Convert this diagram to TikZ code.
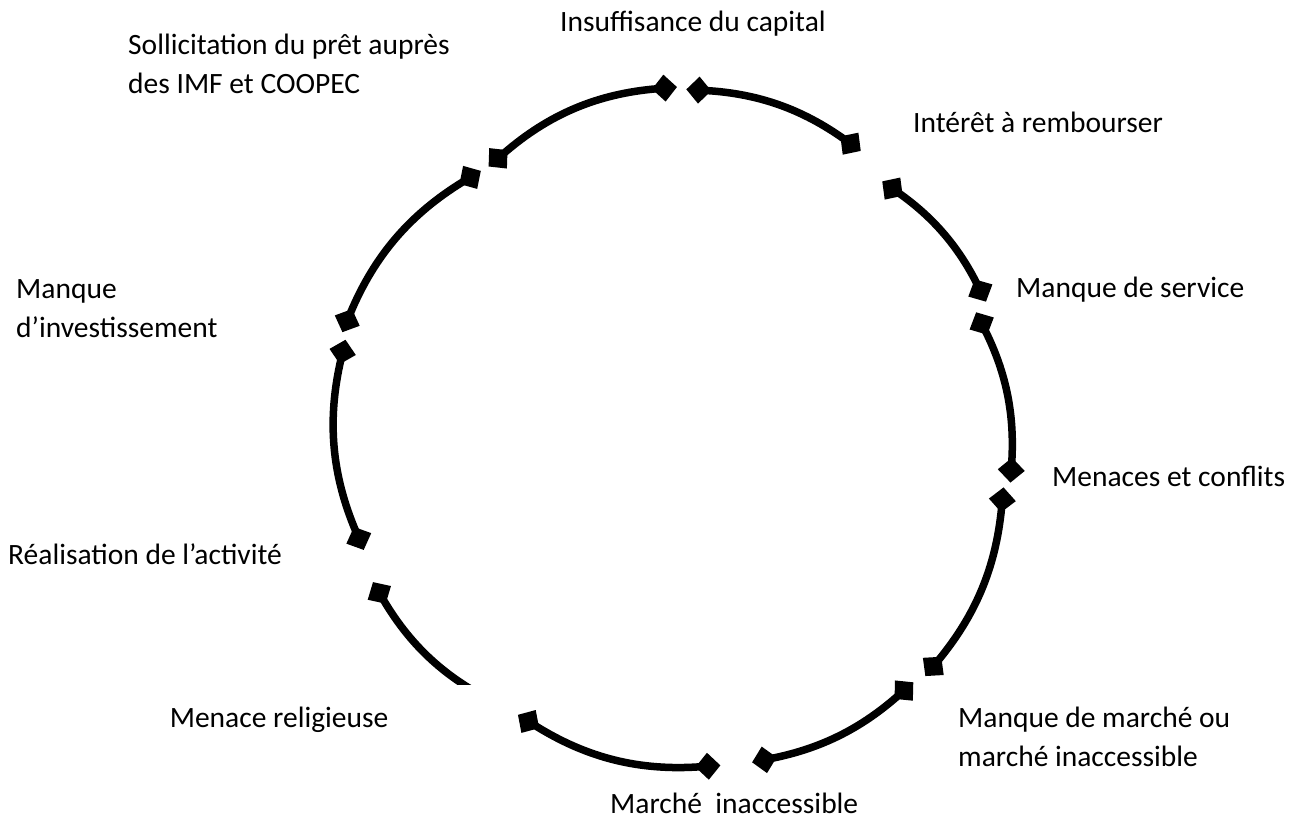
\documentclass[tikz,border=0pt]{standalone}
\usepackage{fontspec}
\setmainfont{Carlito}
\usetikzlibrary{arrows.meta}

\begin{document}
\begin{tikzpicture}[x=1pt,y=1pt,
  cycarc/.style={line width=7.5pt, >={Diamond[length=25pt,width=27pt]}, <->},
  lbl/.style={inner sep=0pt, anchor=west, align=left, font=\fontsize{29.5}{39}\selectfont}]
\useasboundingbox (0,0) rectangle (1295,821);
\coordinate (c) at (671,394);
% ends of the ten arcs, clockwise from the top
\coordinate (a1) at ([shift={(125:318)}]c);
\coordinate (a2) at ([shift={(89:340)}]c);
\coordinate (b1) at ([shift={(87.4:338)}]c);
\coordinate (b2) at ([shift={(55.5:335)}]c);
\coordinate (c1) at ([shift={(49.3:324)}]c);
\coordinate (c2) at ([shift={(21.7:339)}]c);
\coordinate (d1) at ([shift={(20.6:326)}]c);
\coordinate (d2) at ([shift={(-9.3:344)}]c);
\coordinate (e1) at ([shift={(-10.3:338)}]c);
\coordinate (e2) at ([shift={(-44.4:356)}]c);
\coordinate (f1) at ([shift={(-46.5:352)}]c);
\coordinate (f2) at ([shift={(-76.4:345)}]c);
\coordinate (g1) at ([shift={(-81.7:342)}]c);
\coordinate (g2) at ([shift={(-118:326)}]c);
\coordinate (h1) at ([shift={(-120.5:326)}]c);
\coordinate (h2) at ([shift={(-152.5:336)}]c);
\coordinate (i1) at ([shift={(-158.2:331)}]c);
\coordinate (i2) at ([shift={(165:337)}]c);
\coordinate (j1) at ([shift={(163.9:342)}]c);
\coordinate (j2) at ([shift={(126.6:319)}]c);
\draw[cycarc] (a1) to[bend left=18] (a2);
\draw[cycarc] (b1) to[bend left=16] (b2);
\draw[cycarc] (c1) to[bend left=14] (c2);
\draw[cycarc] (d1) to[bend left=15] (d2);
\draw[cycarc] (e1) to[bend left=17] (e2);
\draw[cycarc] (f1) to[bend left=15] (f2);
\draw[cycarc] (g1) to[bend left=18] (g2);
\draw[cycarc] (h1) to[bend left=16] (h2);
\draw[cycarc] (i1) to[bend left=18] (i2);
\draw[cycarc] (j1) to[bend left=18] (j2);
% labels
\node[lbl] (capital) at (560,797) {Insuffisance du capital};
\node[lbl] (interet) at (913,699) {Intérêt à rembourser};
\node[lbl] (service) at (1016,531) {Manque de service};
\node[lbl] (conflits) at (1052,345) {Menaces et conflits};
\node[lbl] (marchemq) at (958,84.5) {Manque de marché ou\\marché inaccessible};
\node[lbl] (marche) at (610,18) {Marché\ \ inaccessible};
\node[lbl, anchor=north east, fill=white, text width=329pt, align=flush left,
  inner xsep=9pt, text height=42pt, text depth=30pt] (religion) at (508,136) {Menace religieuse};
\node[lbl] (activite) at (8,267) {Réalisation de l’activité};
\node[lbl] (invest) at (16,512) {Manque\\d’investissement};
\node[lbl] (pret) at (128,757.5) {Sollicitation du prêt auprès\\des IMF et COOPEC};
\end{tikzpicture}
\end{document}
